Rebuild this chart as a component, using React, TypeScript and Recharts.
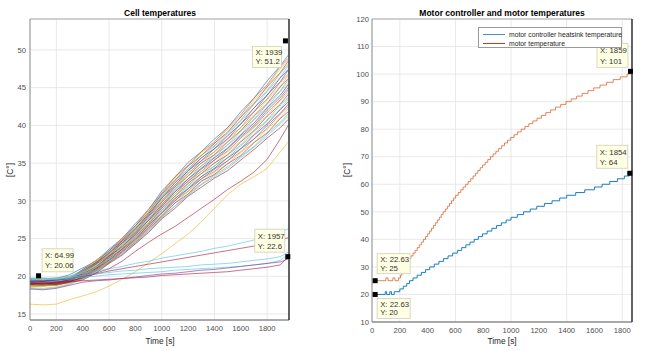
import {
  LineChart,
  Line,
  XAxis,
  YAxis,
  CartesianGrid,
  ReferenceDot,
  ReferenceLine,
} from "recharts";

// MATLAB default line colour order
const MATLAB_COLORS = ["#0072BD", "#D95319", "#EDB120", "#7E2F8E", "#77AC30", "#4DBEEE", "#A2142F"];

// ---------- Cell temperatures ----------
const cellTime = [0, 100, 200, 300, 400, 500, 600, 700, 800, 900, 1000, 1100, 1200, 1300, 1400, 1500, 1600, 1700, 1800, 1900, 1960];

// main bundle of cells (hottest first)
const cellBundle: number[][] = [
  [19.5, 19.4, 19.7, 20.2, 21.1, 22.0, 23.6, 25.0, 27.0, 28.8, 31.3, 33.1, 35.1, 36.5, 38.2, 39.7, 41.8, 43.6, 45.9, 47.9, 49.3],
  [19.1, 19.2, 19.0, 19.5, 20.9, 22.1, 23.3, 25.1, 26.7, 28.9, 31.0, 33.2, 34.7, 36.5, 37.8, 39.7, 41.4, 43.6, 45.4, 47.8, 48.9],
  [19.7, 19.6, 19.8, 20.0, 20.8, 22.1, 23.3, 25.0, 26.6, 28.8, 30.8, 33.0, 34.6, 36.4, 37.6, 39.5, 41.1, 43.3, 45.2, 47.5, 48.7],
  [18.9, 19.0, 19.1, 19.6, 20.9, 21.8, 23.4, 24.8, 26.7, 28.5, 30.9, 32.7, 34.6, 36.0, 37.6, 39.1, 41.1, 42.9, 45.1, 47.0, 48.5],
  [19.3, 19.4, 19.3, 19.8, 20.7, 21.9, 23.1, 24.8, 26.4, 28.5, 30.6, 32.7, 34.2, 36.0, 37.3, 39.0, 40.7, 42.8, 44.6, 46.9, 48.1],
  [19.6, 19.5, 19.6, 19.9, 20.8, 21.7, 23.2, 24.6, 26.5, 28.2, 30.6, 32.4, 34.2, 35.6, 37.2, 38.7, 40.6, 42.3, 44.5, 46.4, 47.9],
  [19.0, 18.9, 19.1, 19.5, 20.6, 21.8, 23.0, 24.7, 26.2, 28.3, 30.3, 32.4, 33.9, 35.7, 36.9, 38.6, 40.2, 42.3, 44.0, 46.3, 47.4],
  [19.4, 19.3, 19.5, 19.7, 20.7, 21.6, 23.1, 24.4, 26.3, 28.0, 30.4, 32.0, 34.0, 35.3, 36.9, 38.2, 40.2, 41.8, 44.0, 45.8, 47.3],
  [18.8, 18.9, 18.8, 19.3, 20.5, 21.7, 22.9, 24.5, 26.0, 28.1, 30.0, 32.1, 33.6, 35.3, 36.5, 38.2, 39.7, 41.8, 43.5, 45.7, 46.8],
  [19.5, 19.6, 19.4, 19.8, 20.6, 21.5, 23.0, 24.3, 26.1, 27.8, 30.1, 31.8, 33.6, 35.0, 36.5, 37.8, 39.7, 41.3, 43.4, 45.2, 46.6],
  [19.2, 19.1, 19.3, 19.5, 20.4, 21.6, 22.7, 24.4, 25.8, 27.9, 29.8, 31.8, 33.3, 35.0, 36.1, 37.8, 39.3, 41.2, 42.9, 45.1, 46.2],
  [18.6, 18.7, 18.8, 19.2, 20.4, 21.5, 22.8, 24.1, 25.9, 27.6, 29.8, 31.5, 33.3, 34.6, 36.1, 37.4, 39.2, 40.8, 42.8, 44.6, 46.0],
  [19.7, 19.8, 19.6, 19.9, 20.3, 21.4, 22.6, 24.2, 25.7, 27.6, 29.5, 31.5, 32.9, 34.6, 35.8, 37.4, 38.8, 40.7, 42.4, 44.5, 45.6],
  [19.1, 19.0, 19.2, 19.6, 20.3, 21.2, 22.7, 23.9, 25.7, 27.4, 29.5, 31.2, 32.9, 34.3, 35.7, 37.0, 38.7, 40.3, 42.3, 44.0, 45.4],
  [19.4, 19.3, 19.5, 19.7, 20.2, 21.3, 22.5, 24.0, 25.5, 27.4, 29.2, 31.2, 32.6, 34.2, 35.4, 36.9, 38.5, 40.0, 42.0, 43.7, 45.0],
  [18.9, 19.0, 18.9, 19.4, 20.2, 21.1, 22.6, 23.8, 25.5, 27.1, 29.3, 30.9, 32.6, 33.9, 35.4, 36.6, 38.3, 39.8, 41.7, 43.4, 44.7],
  [19.6, 19.5, 19.7, 19.8, 20.1, 21.2, 22.3, 23.9, 25.3, 27.2, 29.0, 30.9, 32.3, 33.9, 35.0, 36.5, 37.9, 39.7, 41.3, 43.3, 44.3],
  [19.2, 19.3, 19.1, 19.5, 20.1, 21.0, 22.4, 23.6, 25.3, 26.9, 29.0, 30.6, 32.3, 33.6, 35.0, 36.1, 37.8, 39.3, 41.2, 42.8, 44.1],
  [18.7, 18.8, 18.9, 19.2, 20.0, 21.1, 22.2, 23.7, 25.1, 27.0, 28.7, 30.6, 32.0, 33.6, 34.6, 36.1, 37.4, 39.2, 40.7, 42.7, 43.7],
  [19.3, 19.2, 19.4, 19.6, 20.0, 20.9, 22.3, 23.5, 25.1, 26.7, 28.7, 30.3, 31.9, 33.2, 34.6, 35.7, 37.3, 38.8, 40.6, 42.2, 43.5],
  [18.9, 18.8, 19.0, 19.3, 19.9, 21.0, 22.1, 23.6, 24.9, 26.8, 28.4, 30.3, 31.6, 33.2, 34.3, 35.7, 36.9, 38.7, 40.2, 42.1, 43.1],
  [19.5, 19.4, 19.5, 19.7, 19.9, 20.8, 22.1, 23.3, 24.9, 26.5, 28.4, 30.0, 31.6, 32.9, 34.2, 35.3, 36.9, 38.2, 40.0, 41.6, 42.8],
  [19.0, 19.1, 19.0, 19.3, 19.8, 20.9, 21.9, 23.4, 24.7, 26.5, 28.1, 30.0, 31.3, 32.9, 33.9, 35.3, 36.5, 38.2, 39.6, 41.5, 42.5],
  [18.5, 18.4, 18.6, 19.0, 19.8, 20.7, 22.0, 23.1, 24.7, 26.2, 28.1, 29.7, 31.2, 32.5, 33.8, 34.9, 36.4, 37.7, 39.5, 41.0, 42.2],
  [19.2, 19.3, 19.2, 19.4, 19.7, 20.7, 21.8, 23.2, 24.5, 26.3, 27.9, 29.7, 30.9, 32.6, 33.5, 34.9, 36.0, 37.7, 39.0, 40.9, 41.8],
  [18.8, 18.7, 18.9, 19.1, 19.7, 20.5, 21.9, 22.9, 24.5, 26.0, 27.9, 29.3, 30.9, 32.2, 33.4, 34.5, 35.9, 37.2, 38.9, 40.4, 41.5],
  [18.4, 18.3, 18.5, 18.9, 19.6, 20.6, 21.7, 23.0, 24.3, 26.0, 27.7, 29.3, 30.7, 32.1, 33.2, 34.3, 35.7, 37.1, 38.6, 40.2, 41.2],
  [19.0, 19.1, 18.9, 19.2, 19.5, 20.4, 21.7, 22.8, 24.3, 25.8, 27.6, 29.0, 30.6, 31.8, 33.0, 34.0, 35.4, 36.8, 38.3, 39.7, 40.8],
];

// cells that stay apart from the bundle
const cellYellowLow = [16.3, 16.2, 16.3, 16.9, 17.4, 17.9, 18.7, 19.6, 20.6, 21.8, 23.0, 24.3, 25.6, 27.2, 29.0, 30.8, 32.2, 33.2, 34.3, 36.5, 37.8];
const cellRedMid = [19.0, 19.1, 19.0, 19.3, 19.8, 20.4, 21.0, 22.0, 23.3, 24.5, 25.6, 26.6, 27.8, 29.0, 30.2, 31.5, 32.6, 33.8, 35.5, 38.2, 40.0];
const cellCyanHigh = [19.6, 19.7, 19.8, 20.0, 20.4, 20.7, 21.0, 21.3, 21.7, 22.0, 22.4, 22.7, 23.0, 23.3, 23.7, 24.0, 24.4, 24.8, 25.3, 25.8, 26.3];
const cellRedHigh = [19.3, 19.4, 19.5, 19.7, 20.0, 20.3, 20.7, 21.0, 21.3, 21.6, 21.9, 22.2, 22.5, 22.8, 23.1, 23.4, 23.7, 24.0, 24.4, 24.8, 25.1];
const cellCyanLow1 = [19.8, 19.7, 19.6, 19.7, 19.9, 20.0, 20.2, 20.3, 20.4, 20.5, 20.6, 20.8, 20.9, 21.0, 21.1, 21.2, 21.3, 21.5, 21.7, 22.1, 22.9];
const cellCyanLow2 = [19.5, 19.5, 19.6, 19.8, 20.1, 20.3, 20.5, 20.7, 20.8, 21.0, 21.1, 21.2, 21.3, 21.5, 21.6, 21.7, 21.9, 22.1, 22.3, 22.6, 23.2];
const cellRedLow = [19.1, 19.0, 19.2, 19.3, 19.4, 19.5, 19.6, 19.7, 19.8, 19.9, 20.1, 20.2, 20.3, 20.4, 20.5, 20.6, 20.8, 21.0, 21.2, 21.5, 22.6];
const cellPurpleLow = [18.3, 18.2, 18.4, 18.8, 19.2, 19.4, 19.5, 19.7, 19.9, 20.1, 20.3, 20.4, 20.6, 20.8, 20.9, 21.1, 21.3, 21.5, 21.7, 21.9, 22.3];

const cellXTicks = [0, 200, 400, 600, 800, 1000, 1200, 1400, 1600, 1800];
const cellYTicks = [15, 20, 25, 30, 35, 40, 45, 50];
const cellXMax = 1966;
const cellYMin = 14.2;
const cellYMax = 54.1;

// data tips on the left plot
const cellTipX = [1939, 64.99, 1957];
const cellTipY = [51.2, 20.06, 22.6];

// ---------- Motor controller and motor ----------
const heatsinkSteps: [number, number][] = [
  [22, 20], [95, 21], [105, 20], [128, 21], [140, 20], [160, 21], [200, 22], [225, 23], [250, 24], [270, 25],
  [295, 26], [325, 27], [355, 28], [385, 29], [415, 30], [448, 31], [481, 32], [514, 33], [547, 34], [580, 35],
  [614, 36], [645, 37], [675, 38], [705, 39], [735, 40], [765, 41], [795, 42], [828, 43], [862, 44], [896, 45],
  [930, 46], [965, 47], [1000, 48], [1045, 49], [1090, 50], [1138, 51], [1185, 52], [1240, 53], [1295, 54], [1350, 55],
  [1400, 56], [1465, 57], [1530, 58], [1600, 59], [1655, 60], [1710, 61], [1765, 62], [1815, 63], [1850, 64], [1854, 64],
];
const motorSteps: [number, number][] = [
  [22, 25], [100, 26], [115, 25], [150, 26], [165, 25], [190, 26], [205, 27], [215, 28], [225, 29], [235, 30],
  [245, 31], [258, 32], [268, 33], [280, 34], [295, 35], [310, 36], [325, 37], [340, 38], [355, 39], [370, 40],
  [385, 41], [400, 42], [414, 43], [428, 44], [442, 45], [456, 46], [470, 47], [484, 48], [498, 49], [512, 50],
  [527, 51], [542, 52], [557, 53], [572, 54], [587, 55], [602, 56], [620, 57], [638, 58], [656, 59], [674, 60],
  [692, 61], [710, 62], [727, 63], [744, 64], [761, 65], [778, 66], [795, 67], [814, 68], [833, 69], [852, 70],
  [871, 71], [891, 72], [911, 73], [932, 74], [953, 75], [975, 76], [998, 77], [1022, 78], [1047, 79], [1073, 80],
  [1100, 81], [1128, 82], [1157, 83], [1187, 84], [1218, 85], [1250, 86], [1285, 87], [1320, 88], [1357, 89], [1395, 90],
  [1433, 91], [1472, 92], [1512, 93], [1553, 94], [1595, 95], [1640, 96], [1687, 97], [1735, 98], [1785, 99], [1835, 100],
  [1859, 101],
];
const motorNames = ["motor controller heatsink temperature", "motor temperature"];

const motorXTicks = [0, 200, 400, 600, 800, 1000, 1200, 1400, 1600, 1800];
const motorYTicks = [10, 20, 30, 40, 50, 60, 70, 80, 90, 100, 110, 120];
const motorXMax = 1870;
const motorYMax = 120;

const motorTipX = [1859, 1854, 22.63, 22.63];
const motorTipY = [101, 64, 25, 20];

// ---------- build tables ----------
const cellExtra: [number[], string][] = [
  [cellYellowLow, "#EDB120"],
  [cellRedMid, "#A2142F"],
  [cellCyanHigh, "#4DBEEE"],
  [cellRedHigh, "#A2142F"],
  [cellCyanLow1, "#4DBEEE"],
  [cellCyanLow2, "#4DBEEE"],
  [cellPurpleLow, "#7E2F8E"],
  [cellRedLow, "#A2142F"],
];
const cellLines = [
  ...cellBundle.map((v, i) => ({ values: v, color: MATLAB_COLORS[i % 7] })),
  ...cellExtra.map(([v, c]) => ({ values: v, color: c })),
];
const cellData = cellTime.map((t, i) => {
  const row: Record<string, number> = { t };
  cellLines.forEach((l, k) => (row["c" + k] = l.values[i]));
  return row;
});
const heatsinkData = heatsinkSteps.map(([t, v]) => ({ t, v }));
const motorData = motorSteps.map(([t, v]) => ({ t, v }));

const FONT = "'Liberation Sans', Arial, Helvetica, sans-serif";
const tickStyle = { fontSize: 7.6, fill: "#4d4d4d", fontFamily: FONT };

type Off = { dx: number; dy: number; w: number; h: number };
// box placement relative to the marked point
const cellTipBoxes: Off[] = [
  { dx: -33, dy: 5.5, w: 29, h: 21 },
  { dx: 3.5, dy: -27, w: 31, h: 23 },
  { dx: -33, dy: -27.5, w: 30, h: 23 },
];
const motorTipBoxes: Off[] = [
  { dx: -33.5, dy: -28, w: 31, h: 24 },
  { dx: -33, dy: -28, w: 31, h: 23 },
  { dx: 2, dy: -27, w: 33, h: 20 },
  { dx: 2, dy: 4, w: 33, h: 20 },
];

function tipShape(x: number, y: number, off: Off) {
  return (p: any) => {
    const { cx, cy } = p;
    if (cx == null || cy == null) return <g />;
    const bx = cx + off.dx;
    const by = cy + off.dy;
    return (
      <g>
        <rect x={bx} y={by} width={off.w} height={off.h} fill="#ffffe3" stroke="#cfcfb8" strokeWidth={0.8} />
        <text x={bx + 3} y={by + off.h * 0.42} fontSize={7.8} fill="#333" fontFamily={FONT}>{`X: ${x}`}</text>
        <text x={bx + 3} y={by + off.h * 0.85} fontSize={7.8} fill="#333" fontFamily={FONT}>{`Y: ${y}`}</text>
        <rect x={cx - 2.5} y={cy - 2.5} width={5} height={5} fill="#000" />
      </g>
    );
  };
}

const textAbs = (left: number, top: number, w: number, extra: any = {}) => ({
  position: "absolute" as const,
  left,
  top,
  width: w,
  textAlign: "center" as const,
  fontFamily: FONT,
  lineHeight: "10px",
  whiteSpace: "nowrap" as const,
  ...extra,
});

export default function App() {
  return (
    <div style={{ position: "absolute", left: 0, top: 0, width: 654, height: 351, background: "#fff", overflow: "hidden" }}>
      {/* left plot */}
      <div style={{ position: "absolute", left: 0, top: 0 }}>
        <LineChart width={300} height={351} data={cellData} margin={{ top: 19, right: 11, left: 0, bottom: 0 }}>
          <CartesianGrid stroke="#e3e3e3" strokeWidth={0.8} />
          <XAxis
            type="number"
            dataKey="t"
            domain={[0, cellXMax]}
            ticks={cellXTicks}
            allowDataOverflow
            tickSize={0}
            tickMargin={6}
            height={31}
            tick={tickStyle}
            axisLine={{ stroke: "#3a3a3a", strokeWidth: 0.8 }}
          />
          <YAxis
            type="number"
            domain={[cellYMin, cellYMax]}
            ticks={cellYTicks}
            allowDataOverflow
            tickSize={0}
            tickMargin={4}
            width={30}
            tick={tickStyle}
            axisLine={{ stroke: "#7a7a7a", strokeWidth: 0.8 }}
          />
          <ReferenceLine y={cellYMax} stroke="#9a9a9a" strokeWidth={0.8} />
          <ReferenceLine x={cellXMax} stroke="#000" strokeWidth={1.2} />
          {cellLines.map((l, k) => (
            <Line
              key={k}
              dataKey={"c" + k}
              stroke={l.color}
              strokeWidth={0.6}
              dot={false}
              activeDot={false}
              isAnimationActive={false}
              type="linear"
            />
          ))}
          {cellTipX.map((x, i) => (
            <ReferenceDot key={"tip" + i} x={x} y={cellTipY[i]} shape={tipShape(x, cellTipY[i], cellTipBoxes[i])} />
          ))}
        </LineChart>
      </div>

      {/* right plot */}
      <div style={{ position: "absolute", left: 330, top: 0 }}>
        <LineChart width={310} height={351} margin={{ top: 19, right: 8, left: 0, bottom: 0 }}>
          <CartesianGrid stroke="#e3e3e3" strokeWidth={0.8} />
          <XAxis
            type="number"
            dataKey="t"
            domain={[0, motorXMax]}
            ticks={motorXTicks}
            allowDataOverflow
            tickSize={0}
            tickMargin={6}
            height={29}
            tick={tickStyle}
            axisLine={{ stroke: "#3a3a3a", strokeWidth: 0.8 }}
          />
          <YAxis
            type="number"
            domain={[10, motorYMax]}
            ticks={motorYTicks}
            allowDataOverflow
            tickSize={0}
            tickMargin={3}
            width={42}
            tick={tickStyle}
            axisLine={{ stroke: "#7a7a7a", strokeWidth: 0.8 }}
          />
          <ReferenceLine y={motorYMax} stroke="#9a9a9a" strokeWidth={0.8} />
          <ReferenceLine x={motorXMax} stroke="#000" strokeWidth={1.2} />
          <Line
            data={motorData}
            dataKey="v"
            type="stepAfter"
            stroke="#D95319"
            strokeWidth={0.7}
            dot={false}
            activeDot={false}
            isAnimationActive={false}
          />
          <Line
            data={heatsinkData}
            dataKey="v"
            type="stepAfter"
            stroke="#0072BD"
            strokeWidth={0.9}
            dot={false}
            activeDot={false}
            isAnimationActive={false}
          />
          {motorTipX.map((x, i) => (
            <ReferenceDot key={"tip" + i} x={x} y={motorTipY[i]} shape={tipShape(x, motorTipY[i], motorTipBoxes[i])} />
          ))}
        </LineChart>
      </div>

      {/* titles and axis labels */}
      <div style={textAbs(60, 8, 200, { fontSize: 8.5, fontWeight: "bold", color: "#000" })}>Cell temperatures</div>
      <div style={textAbs(400, 8, 204, { fontSize: 8.5, fontWeight: "bold", color: "#000" })}>
        Motor controller and motor temperatures
      </div>
      <div style={textAbs(110, 336, 100, { fontSize: 8.3, color: "#262626" })}>Time [s]</div>
      <div style={textAbs(452, 336, 100, { fontSize: 8.3, color: "#262626" })}>Time [s]</div>
      <div style={textAbs(-10, 165, 40, { fontSize: 8.3, color: "#262626", transform: "rotate(-90deg)" })}>[C°]</div>
      <div style={textAbs(327, 165, 40, { fontSize: 8.3, color: "#262626", transform: "rotate(-90deg)" })}>[C°]</div>

      {/* legend */}
      <div
        style={{
          position: "absolute",
          left: 478,
          top: 27,
          width: 144,
          height: 21,
          background: "#fff",
          border: "0.8px solid #9a9a9a",
          boxSizing: "border-box",
          fontFamily: FONT,
          fontSize: 6.8,
          color: "#262626",
        }}
      >
        {motorNames.map((n, i) => (
          <div key={n} style={{ position: "absolute", left: 4, top: 1.5 + i * 9.5, height: 9, display: "flex", alignItems: "center", whiteSpace: "nowrap" }}>
            <span style={{ display: "inline-block", width: 22, height: 0, borderTop: `1px solid ${i === 0 ? "#4a90c8" : "#C0401A"}`, marginRight: 4 }} />
            {n}
          </div>
        ))}
      </div>
    </div>
  );
}
